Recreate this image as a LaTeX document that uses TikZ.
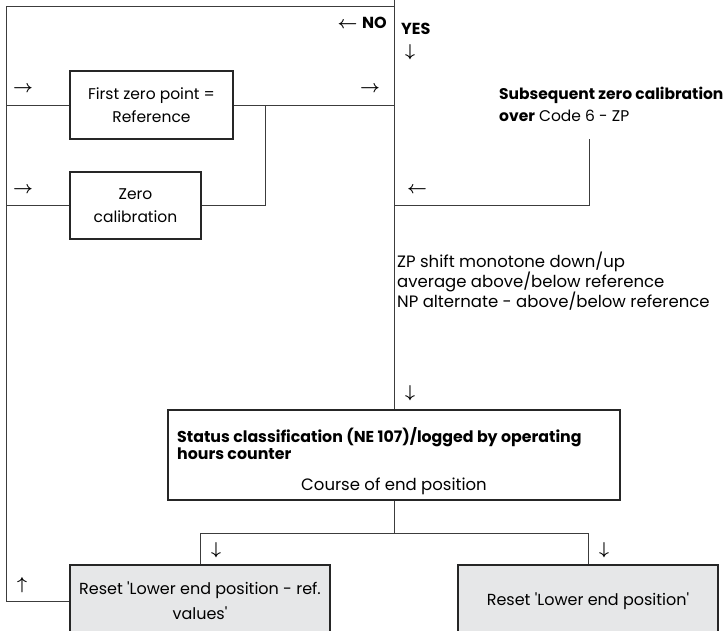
\documentclass[tikz,border=0pt]{standalone}
\usepackage{fontspec}
\setmainfont{Poppins}
\usetikzlibrary{positioning}

\definecolor{resetgray}{HTML}{E6E7E8}
\definecolor{linegray}{HTML}{3C3C3C}
\tikzset{
  flowline/.style={draw=linegray, line width=0.9pt},
  stepbox/.style={draw=black!85, line width=2.2pt, align=center, inner sep=0pt,
    font=\fontsize{15.5}{23}\selectfont},
  resetbox/.style={stepbox, fill=resetgray, minimum width=260pt, minimum height=72pt,
    font=\fontsize{16}{25}\selectfont},
  txt/.style={inner sep=0pt, align=left, font=\fontsize{16.5}{20}\selectfont},
  arr/.style={inner sep=0pt, font=\fontsize{18}{18}\selectfont\boldmath},
}

\begin{document}
\begin{tikzpicture}[x=1pt, y=-1pt]
  \clip (0,0) rectangle (725,630);
  \fill[white] (0,0) rectangle (725,630);

  \coordinate (top) at (394,0);
  \coordinate (corner) at (6,6);
  \coordinate (join) at (265,105);
  \coordinate (zpend) at (589,139);
  \coordinate (split) at (394,533);

  % boxes
  \node[stepbox, minimum width=163pt, minimum height=68pt] (first) at (151.5,105) {First zero point =\\Reference};
  \node[stepbox, minimum width=131pt, minimum height=67pt] (zero) at (135.5,205.5) {Zero\\calibration};
  \node[stepbox, minimum width=452pt, minimum height=90pt] (status) at (394,455) {};
  \node[resetbox] (resetref) at (200,601) {Reset \textquotesingle Lower end position - ref.\\values\textquotesingle};
  \node[resetbox] (resetlow) at (588,601) {Reset \textquotesingle Lower end position\textquotesingle};

  % texts
  \node[txt, anchor=north west, font=\fontsize{15.5}{22}\selectfont] (subseq) at (499,87) {\textbf{Subsequent zero calibration}\\\textbf{over} Code 6 - ZP};
  \node[txt, anchor=north west] (shift) at (397,252) {ZP shift monotone down/up\\average above/below reference\\NP alternate - above/below reference};
  \node[txt, anchor=north west, font=\fontsize{15.8}{16}\selectfont\bfseries] (stathead) at (177,427) {Status classification (NE 107)/logged by operating\\hours counter};
  \node[txt] (course) at (394,486) {Course of end position};
  \node[arr, anchor=east] (no) at (387,23) {$\leftarrow$ \fontsize{16}{16}\selectfont\textbf{NO}};
  \node[arr, anchor=west, font=\fontsize{16}{16}\selectfont] (yes) at (401,29) {\textbf{YES}};

  % arrow marks
  \node[arr] (a1) at (23,89) {$\rightarrow$};
  \node[arr] (a2) at (370,89) {$\rightarrow$};
  \node[arr] (a3) at (23,190) {$\rightarrow$};
  \node[arr] (a4) at (417,190) {$\leftarrow$};
  \node[arr] (a5) at (410,52) {$\downarrow$};
  \node[arr] (a6) at (410,393) {$\downarrow$};
  \node[arr] (a7) at (216,550) {$\downarrow$};
  \node[arr] (a8) at (604,550) {$\downarrow$};
  \node[arr] (a9) at (22,585) {$\uparrow$};

  % connectors
  \draw[flowline] (top) -- (status.north);
  \draw[flowline] (top |- corner) -- (corner) -- (corner |- resetref.west) -- (resetref.west);
  \draw[flowline] (corner |- first.west) -- (first.west);
  \draw[flowline] (first.east) -- (top |- first.east);
  \draw[flowline] (corner |- zero.west) -- (zero.west);
  \draw[flowline] (zero.east) -| (join);
  \draw[flowline] (zpend) |- (top |- zero.east);
  \draw[flowline] (status.south) -- (split);
  \draw[flowline] (resetref.north) |- (split) -| (resetlow.north);
\end{tikzpicture}
\end{document}
